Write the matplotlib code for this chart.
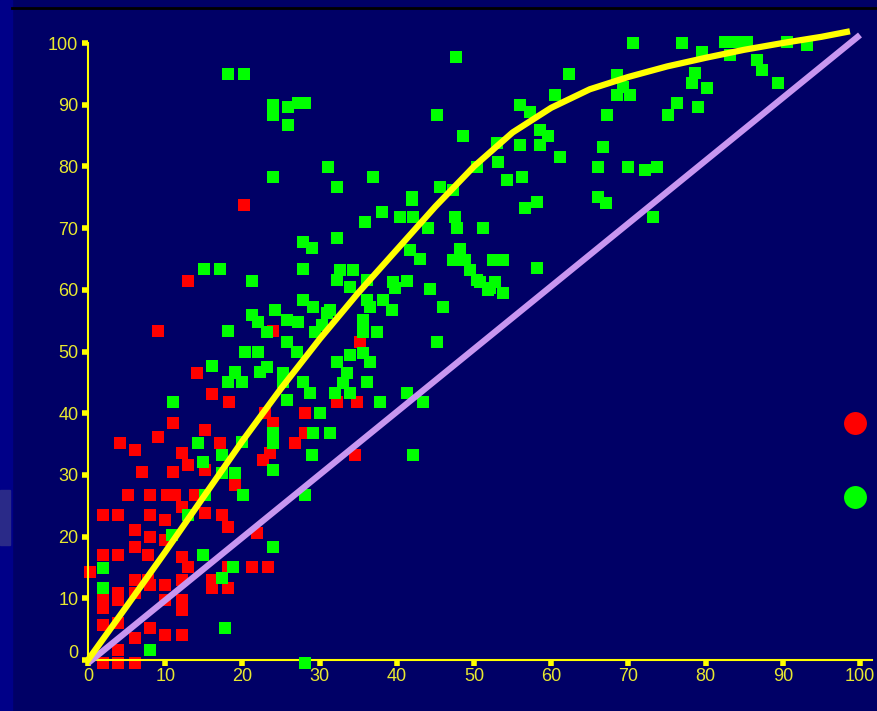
import matplotlib
matplotlib.use("Agg")
import matplotlib.pyplot as plt
from matplotlib.patches import Rectangle
from matplotlib.transforms import ScaledTranslation

# colours
BG = "#000066"
YELLOW = "#ffff00"
LABEL = "#e8e830"
LAVENDER = "#c896f0"
GREEN = "#00ff00"
RED = "#ff0000"

ticks = [0, 10, 20, 30, 40, 50, 60, 70, 80, 90, 100]

green_x = [14.2, 19.9, 24, 24, 17.4, 14.9, 19.0, 17.4, 24, 20.1, 15.2, 13.0, 10.9, 14.9, 18.8, 17.4, 24, 1.9, 1.9, 17.7, 8.0,
           15.0, 17.1, 18.1, 16.1, 19.0, 18.1, 11.0,
           18.1, 20.2, 24, 24, 25.9, 27.2, 28.1, 25.9, 24,
           38.1, 40.4, 42.1, 35.9, 42, 44, 47.5, 47.8, 51.2, 27.8, 29.0, 32.3, 21.2, 27.8, 32.6, 34.3, 32.3, 33.9,
           36.1, 39.5, 41.3, 39.8, 44.3, 48.2, 48.8, 47.3, 49.5, 50.4, 52.5, 52.1, 43, 41.7, 27.8, 29.1, 31.3, 31.0,
           21.2, 22.0, 24.2, 25.8, 27.2, 23.2, 29.4, 30.3, 36.1, 36.5, 38.2, 39.4, 35.6, 35.6, 37.4, 46.0, 45.2,
           25.8, 27.1, 20.3, 22.0, 19.0, 19.9, 22.3, 23.2, 25.3, 25.3, 27.8, 28.8, 32.3, 33.9, 33.5, 33.0, 35.6,
           36.5, 36.1, 32.0, 33.9, 37.8, 43.4, 41.3, 30.1, 31.3, 29.1, 25.8,
           29.0, 42.1, 28.1, 28.1,
           47.7, 62.3, 45.2, 48.6, 60.5, 56.0, 57.3, 58.5, 59.6, 56.0, 58.5, 61.1, 53.0, 53.1, 50.4, 56.2, 54.3,
           58.2, 56.6, 31.1, 36.9, 32.3, 42.0, 45.6, 47.3,
           70.6, 76.9, 82.5, 84.1, 85.4, 83.2, 79.5, 90.5, 93.1, 68.5, 68.5, 70.2, 69.3, 78.6, 78.2, 80.2, 86.7,
           87.3, 89.4, 67.2, 76.3, 75.1, 79.0, 66.7, 66.1, 69.9, 72.2, 73.7, 66.1, 67.1, 73.2,
           53.8, 58.2, 52.7, 51.8, 53.8, 50.8]
green_y = [35.2, 35.3, 36.8, 35.2, 33.2, 32.1, 30.3, 30.3, 30.8, 26.7, 26.7, 23.5, 20.3, 17.0, 15.1, 13.3, 18.3, 14.9, 11.7, 5.2, 1.6,
           63.4, 63.4, 53.3, 47.6, 46.5, 45.0, 41.8,
           95.0, 95.0, 90, 88.3, 89.6, 90.3, 90.3, 86.7, 78.3,
           72.6, 71.8, 71.8, 71.0, 74.6, 70.0, 71.8, 70, 70.0, 67.7, 66.8, 68.4, 61.4, 63.4, 63.2, 63.2, 61.6, 60.5,
           61.6, 61.3, 61.4, 60.3, 60.1, 66.6, 64.8, 64.8, 63.2, 61.6, 64.8, 60.3, 65, 66.5, 58.3, 57.2, 56.7, 56.2,
           55.9, 54.8, 56.7, 55.1, 54.8, 53.2, 53.2, 54.3, 58.3, 57.2, 58.3, 56.7, 55.1, 53.2, 53.2, 57.2, 51.5,
           51.5, 49.9, 49.9, 49.9, 46.7, 45.0, 46.7, 47.5, 46.5, 45.0, 45.0, 43.3, 48.3, 49.4, 46.5, 44.9, 49.8,
           48.3, 45.0, 43.3, 43.3, 41.8, 41.8, 43.3, 40.0, 36.8, 36.8, 42.1,
           33.2, 33.2, 26.7, -0.5,
           97.7, 95.0, 88.3, 84.9, 91.6, 90.0, 88.8, 85.9, 84.9, 83.5, 83.5, 81.5, 83.8, 80.7, 79.9, 78.3, 77.8,
           74.2, 73.3, 79.9, 78.3, 76.7, 75.0, 76.7, 76.2,
           100, 100, 100.2, 100.2, 100.2, 98.1, 98.5, 100.2, 99.7, 94.8, 91.6, 91.6, 92.9, 95.1, 93.5, 92.7, 97.2,
           95.6, 93.5, 88.3, 90.3, 88.3, 89.6, 83.1, 79.9, 79.9, 79.4, 79.9, 75.0, 74.1, 71.8,
           64.8, 63.5, 61.3, 60.0, 59.5, 61.3]

red_x = [11.0, 15.2, 4.1, 9.1, 6.1, 12.2, 17.1, 13.0, 7.0, 11.0, 15.2, 23.6, 24, 5.2, 8.0, 10.2, 11.3, 13.9, 12.2,
         15.2, 17.4, 19.0, 1.9, 3.9, 8.0, 10, 6.1, 8.0, 10, 6.1, 18.1, 21.9, 1.9, 3.9, 7.8, 12.2, 13.0, 0.3, 18.1,
         21.2, 23.3, 6.1, 7.8, 12.2, 16.1, 16.1, 18.1, 10, 3.9, 3.9, 1.9, 1.9, 6.1, 10, 12.2, 12.2, 8, 1.9, 3.9,
         8.0, 6.1, 10, 12.2, 3.9, 3.9, 1.9, 6.1, 22.7,
         13.0, 9.1, 14.1, 16.1, 18.3, 20.2, 24.0, 35.2, 32.3, 34.8, 28.1, 22.9, 24, 28.1, 26.8, 34.6]
red_y = [38.4, 37.3, 35.2, 36.1, 34.0, 33.5, 35.2, 31.6, 30.5, 30.5, 30.8, 33.5, 38.1, 26.7, 26.7, 26.7, 26.7, 26.7, 24.8,
         23.8, 23.5, 28.4, 23.5, 23.5, 23.5, 22.7, 21.1, 19.9, 19.4, 18.3, 21.6, 20.6, 17.0, 17.0, 17.0, 16.7, 15.1, 14.3, 15.1,
         15.1, 15.1, 13.0, 13.0, 13.0, 13.0, 11.7, 11.7, 12.2, 10.9, 9.7, 9.7, 8.4, 10.9, 9.7, 9.7, 8.1, 12.2, 5.7, 6.0,
         5.2, 3.6, 4.1, 4.1, 1.6, -0.5, -0.5, -0.5, 32.4,
         61.4, 53.3, 46.5, 43.1, 41.8, 73.7, 53.3, 51.5, 41.8, 41.8, 40.0, 40.0, 38.4, 36.8, 35.2, 33.2]

# fitted curve
curve_x = [0, 5, 10, 15, 20, 25, 30, 35, 40, 45, 50, 55, 60, 65, 70, 75, 80, 85, 90, 95, 98.3]
curve_y = [0, 8.7, 17.5, 26.5, 35.5, 44, 52, 59.5, 66.5, 73.5, 80, 85.5, 89.5, 92.5, 94.5, 96.2, 97.6, 98.9,
           100, 101, 101.8]

# diagonal reference
diag_x = [0, 100]
diag_y = [-0.5, 101.3]

# legend dots at the right edge (labels cut off)
legend_x = [99.4, 99.4]
legend_y = [38.4, 26.4]
legend_colors = [RED, GREEN]

fig = plt.figure(figsize=(8.78, 7.11), dpi=100)
fig.patch.set_facecolor(BG)

# left stripe, small grey box and top rule of the slide
fig.patches.append(Rectangle((0, 0), 12 / 878, 1, transform=fig.transFigure, color="#000088", zorder=0))
fig.patches.append(Rectangle((0, 1 - 545 / 711), 10 / 878, 55 / 711, transform=fig.transFigure,
                             color="#2a2a88", zorder=0))
fig.add_artist(plt.Line2D([12 / 878, 1], [1 - 8 / 711, 1 - 8 / 711], transform=fig.transFigure,
                          color="black", lw=2))

ax = fig.add_axes([88 / 878, 51 / 711, 772 / 878, 617 / 711])
ax.set_facecolor(BG)
ax.patch.set_alpha(0)
ax.set_xlim(0, 100)
ax.set_ylim(0, 100)

ax.plot(red_x, red_y, "s", color=RED, ms=8.6, mew=0, clip_on=False, zorder=2)
ax.plot(green_x, green_y, "s", color=GREEN, ms=8.6, mew=0, clip_on=False, zorder=3)

ax.plot(diag_x, diag_y, color=LAVENDER, lw=4.5, solid_capstyle="butt", clip_on=False, zorder=4)
ax.plot(curve_x, curve_y, color=YELLOW, lw=4.5, solid_joinstyle="round", clip_on=False, zorder=5)

for lx, ly, lc in zip(legend_x, legend_y, legend_colors):
    ax.plot([lx], [ly], "o", color=lc, ms=16.5, mew=0, clip_on=False, zorder=6)

for side in ["top", "right"]:
    ax.spines[side].set_visible(False)
ax.spines["left"].set_color(YELLOW)
ax.spines["bottom"].set_color(YELLOW)
ax.spines["left"].set_linewidth(1.5)
ax.spines["bottom"].set_linewidth(1.5)
ax.spines["bottom"].set_bounds(0, 101.5)

ax.set_xticks(ticks)
ax.set_yticks(ticks)
ax.tick_params(axis="both", colors=YELLOW, direction="out", length=4, width=4,
               labelsize=13, labelcolor=LABEL)
ax.tick_params(axis="x", pad=2)
ax.tick_params(axis="y", pad=3)
for lbl in ax.get_xticklabels() + ax.get_yticklabels():
    lbl.set_family("Liberation Sans")

# the "0" on the y axis sits a little above its tick
zero = ax.get_yticklabels()[0]
zero.set_transform(zero.get_transform() + ScaledTranslation(0, 0.09, fig.dpi_scale_trans))

plt.savefig("out.png", dpi=100, facecolor=BG)
plt.close()
